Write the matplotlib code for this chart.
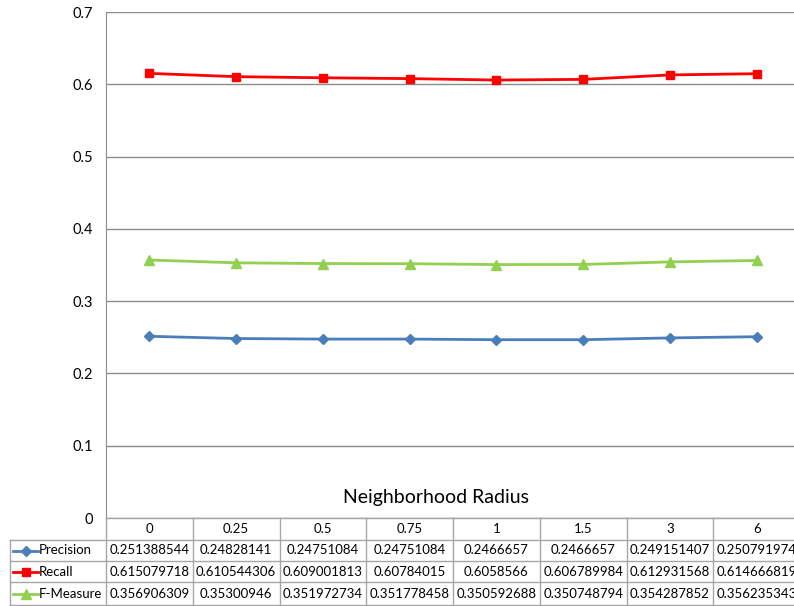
import matplotlib.pyplot as plt

plt.rcParams['font.family'] = ['Lato', 'DejaVu Sans']

radius = ['0', '0.25', '0.5', '0.75', '1', '1.5', '3', '6']
precision = [0.251388544, 0.24828141, 0.24751084, 0.24751084, 0.2466657, 0.2466657, 0.249151407, 0.250791974]
recall = [0.615079718, 0.610544306, 0.609001813, 0.60784015, 0.6058566, 0.606789984, 0.612931568, 0.614666819]
fmeasure = [0.356906309, 0.35300946, 0.351972734, 0.351778458, 0.350592688, 0.350748794, 0.354287852, 0.356235343]

series = [
    ('Precision', precision, '#4A7EBB', 'D', 5.5),
    ('Recall', recall, '#FF0000', 's', 5.5),
    ('F-Measure', fmeasure, '#92D050', '^', 6.5),
]

W, H = 794, 606
fig = plt.figure(figsize=(W / 100, H / 100), dpi=100)

# plot area in pixels
left, right, top, bottom = 106, 800, 12, 518
ax = fig.add_axes([left / W, 1 - bottom / H, (right - left) / W, (bottom - top) / H])
x = list(range(len(radius)))
for name, vals, color, marker, ms in series:
    ax.plot(x, vals, color=color, lw=2.0, marker=marker, ms=ms, mec=color, mfc=color, zorder=3)

ax.set_xlim(-0.5, len(radius) - 0.5)
ax.set_ylim(0, 0.7)
ax.set_yticks([i / 10 for i in range(8)])
ax.set_yticklabels(['0'] + ['%.1f' % (i / 10) for i in range(1, 8)])
ax.yaxis.grid(True, color='#8C8C8C', lw=1.0)
ax.set_axisbelow(True)
ax.set_xticks([])
for s in ['top', 'right', 'bottom']:
    ax.spines[s].set_visible(False)
ax.spines['left'].set_color('#8C8C8C')
ax.tick_params(axis='y', length=0, labelsize=10.5, pad=9.5)

# data table drawn below the plot area, in pixel coordinates
ov = fig.add_axes([0, 0, 1, 1], zorder=5)
ov.set_xlim(0, W)
ov.set_ylim(H, 0)
ov.axis('off')
ov.patch.set_visible(False)

col_w = (right - left) / len(radius)
rows = [518, 540, 561, 582, 605]
grid_c = '#A6A6A6'
lw_t = 1.0

ov.text((left + right) / 2 - 17, 498, 'Neighborhood Radius', ha='center', va='center', fontsize=14)

# horizontal lines
ov.plot([left, right], [rows[0], rows[0]], color=grid_c, lw=lw_t)
for y in rows[1:]:
    ov.plot([10, right], [y, y], color=grid_c, lw=lw_t)
# vertical lines
ov.plot([10, 10], [rows[1], rows[-1]], color=grid_c, lw=lw_t)
for i in range(len(radius) + 1):
    xx = left + i * col_w
    ov.plot([xx, xx], [rows[0], rows[-1]], color=grid_c, lw=lw_t)

for i, r in enumerate(radius):
    cx = left + (i + 0.5) * col_w
    ov.text(cx, (rows[0] + rows[1]) / 2, r, ha='center', va='center', fontsize=9.5)
    for j, (name, vals, color, marker, ms) in enumerate(series):
        cy = (rows[j + 1] + rows[j + 2]) / 2
        ov.text(cx, cy, repr(vals[i]), ha='center', va='center', fontsize=9.5)

for j, (name, vals, color, marker, ms) in enumerate(series):
    cy = (rows[j + 1] + rows[j + 2]) / 2
    ov.plot([13, 38], [cy, cy], color=color, lw=2.0)
    ov.plot([25.5], [cy], marker=marker, color=color, ms=ms)
    ov.text(39, cy, name, ha='left', va='center', fontsize=9.5)

fig.savefig('out.png', dpi=100)
